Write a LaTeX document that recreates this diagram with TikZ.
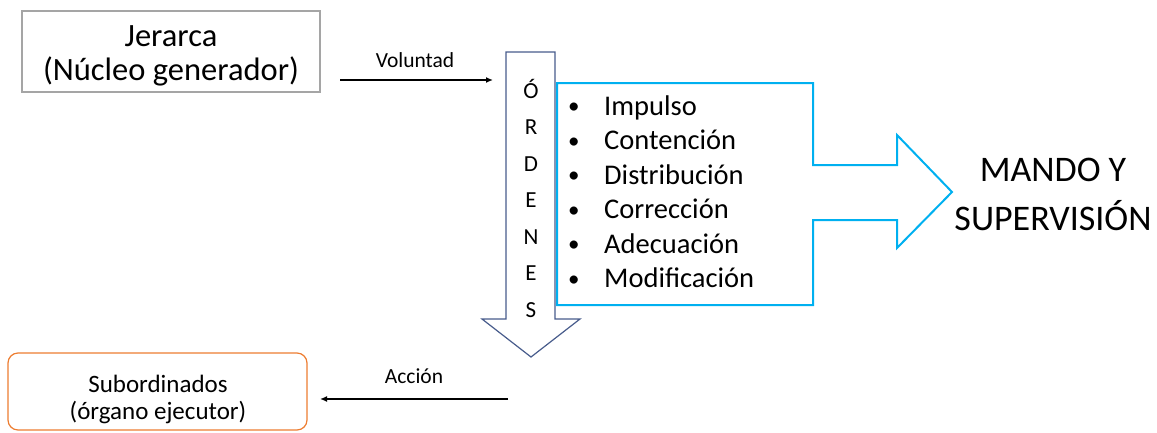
\documentclass[tikz,border=0pt]{standalone}
\usepackage{fontspec}
\setmainfont{Carlito}
\usetikzlibrary{arrows.meta}
\begin{document}
\begin{tikzpicture}[x=1pt,y=-1pt,
  graybox/.style={draw={rgb,255:red,165;green,165;blue,165}, line width=1.2pt, minimum width=298pt, minimum height=81pt, inner sep=0pt},
  orangebox/.style={draw={rgb,255:red,237;green,125;blue,49}, line width=1.2pt, rounded corners=10pt, minimum width=299pt, minimum height=77pt, inner sep=0pt},
  boxtext/.style={align=center, anchor=base, inner sep=0pt},
  conn/.style={line width=1.4pt, -{Latex[length=7pt,width=6pt]}},
  lbl/.style={font=\fontsize{21.5}{24}\selectfont, anchor=base},
  letter/.style={font=\fontsize{23}{26}\selectfont, anchor=base},
  item/.style={font=\fontsize{28.5}{32}\selectfont, anchor=base west, inner sep=0pt},
  bullet/.style={font=\fontsize{23}{26}\selectfont, anchor=base west, inner sep=0pt},
  ordarrow/.style={draw={rgb,255:red,72;green,92;blue,140}, line width=1.2pt, fill=white},
  bluearrow/.style={draw={rgb,255:red,0;green,176;blue,240}, line width=2pt}
]
\useasboundingbox (0,0) rectangle (1157,432);

% boxes
\node[graybox] (jer) at (171,51.5) {};
\node[boxtext, font=\fontsize{32.5}{33.5}\selectfont] (jertext) at (171,80) {Jerarca\\(Núcleo generador)};
\node[orangebox] (sub) at (157.5,391.5) {};
\node[boxtext, font=\fontsize{25}{27}\selectfont] (subtext) at (158,419) {Subordinados\\(órgano ejecutor)};

% ORDENES arrow
\draw[ordarrow] (506,52) -- (555,52) -- (555,319) -- (580,319) -- (531,357) -- (482,319) -- (506,319) -- cycle;
\foreach \l [count=\i from 0] in {Ó,R,D,E,N,E,S}
  \node[letter] (let\i) at (531,98+36.5*\i) {\l};

% blue arrow box
\draw[bluearrow] (557,83) -- (813,83) -- (813,165) -- (897,165) -- (897,135) -- (952,192) -- (897,248) -- (897,220) -- (813,220) -- (813,305) -- (557,305) -- cycle;

\foreach \t [count=\i from 0] in {Impulso,Contención,Distribución,Corrección,Adecuación,Modificación}{
  \node[bullet] (bul\i) at (568,113.5+34.5*\i) {•};
  \node[item] (it\i) at (604,115+34.5*\i) {\t};
}

\node[font=\fontsize{36}{49}\selectfont, align=center, anchor=base] (mando) at (1053,230) {MANDO Y\\SUPERVISIÓN};

% connectors
\coordinate (vs) at (340,80);
\coordinate (ve) at (493,80);
\draw[conn] (vs) -- (ve);
\node[lbl] (vol) at (415,67) {Voluntad};

\coordinate (as) at (508,399);
\coordinate (ae) at (320,399);
\draw[conn] (as) -- (ae);
\node[lbl] (acc) at (414,383) {Acción};
\end{tikzpicture}
\end{document}
